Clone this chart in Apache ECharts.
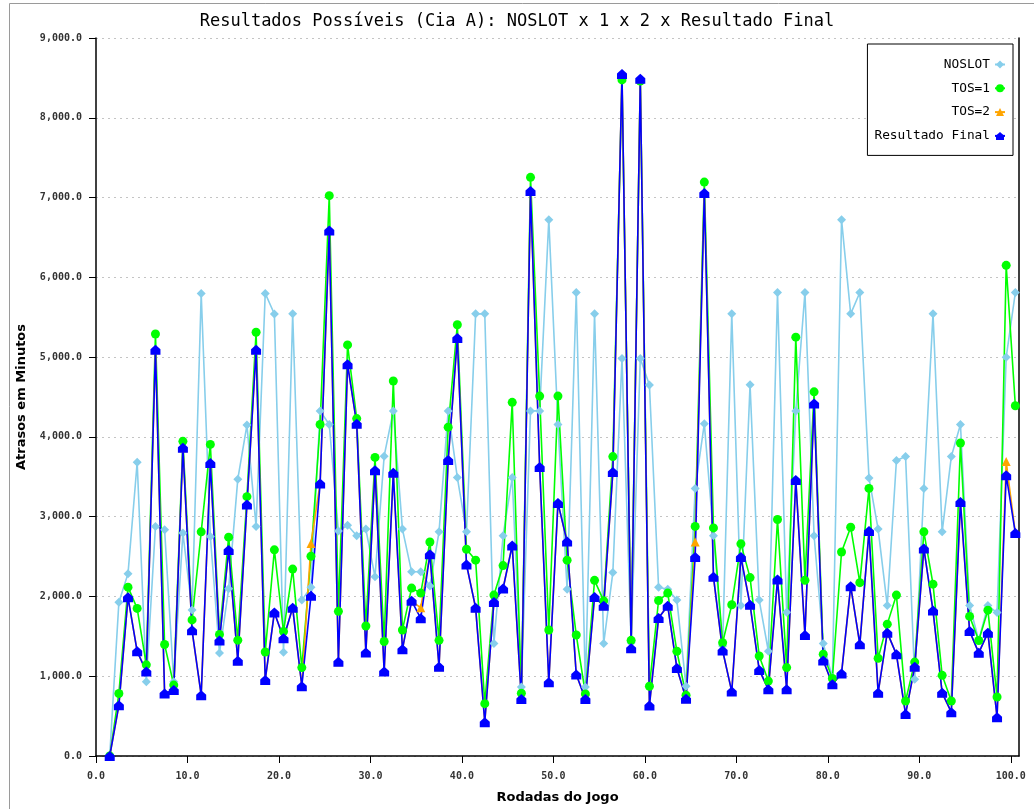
<!DOCTYPE html>
<html>
<head>
<meta charset="utf-8">
<title>Resultados Possíveis (Cia A)</title>
<script src="https://cdn.jsdelivr.net/npm/echarts@6/dist/echarts.min.js"></script>
<style>
  html, body { margin: 0; padding: 0; background: #fff; }
  #chart { width: 1034px; height: 809px; }
</style>
</head>
<body>
<div id="chart"></div>
<script>
// Game rounds (x) and delays in minutes for each scenario
const rounds = [
  1, 2, 3, 4, 5, 6, 7, 8, 9, 10,
  11, 12, 13, 14, 15, 16, 17, 18, 19, 20,
  21, 22, 23, 24, 25, 26, 27, 28, 29, 30,
  31, 32, 33, 34, 35, 36, 37, 38, 39, 40,
  41, 42, 43, 44, 45, 46, 47, 48, 49, 50,
  51, 52, 53, 54, 55, 56, 57, 58, 59, 60,
  61, 62, 63, 64, 65, 66, 67, 68, 69, 70,
  71, 72, 73, 74, 75, 76, 77, 78, 79, 80,
  81, 82, 83, 84, 85, 86, 87, 88, 89, 90,
  91, 92, 93, 94, 95, 96, 97, 98, 99, 100
];

const noslot = [
  0, 1926, 2286, 3682, 932, 2878, 2836, 932, 2794, 1829,
  5798, 2751, 1291, 2095, 3470, 4148, 2878, 5798, 5540, 1300,
  5542, 1954, 2115, 4326, 4156, 2819, 2892, 2761, 2844, 2246,
  3758, 4326, 2844, 2309, 2309, 2130, 2810, 4326, 3490, 2810,
  5542, 5542, 1410, 2761, 3490, 865, 4326, 4326, 6723, 4156,
  2090, 5810, 865, 5542, 1410, 2299, 4983, 1420, 4983, 4650,
  2115, 2090, 1954, 875, 3354, 4166, 2761, 1380, 5542, 1886,
  4652, 1954, 1313, 5810, 1803, 4326, 5810, 2761, 1410, 980,
  6723, 5542, 5810, 3486, 2844, 1886, 3704, 3753, 963, 3354,
  5542, 2810, 3753, 4156, 1886, 1450, 1886, 1798, 4997, 5810
];

const tos1 = [
  0, 783, 2116, 1850, 1143, 5290, 1397, 889, 3944, 1706,
  2810, 3906, 1524, 2743, 1452, 3251, 5311, 1304, 2584, 1560,
  2343, 1108, 2504, 4156, 7024, 1813, 5153, 4229, 1629, 3743,
  1435, 4701, 1580, 2105, 2042, 2683, 1450, 4122, 5406, 2591,
  2455, 656, 2017, 2387, 4433, 787, 7253, 4511, 1580, 4511,
  2455, 1517, 778, 2202, 1945, 3753, 8475, 1450, 8460, 875,
  1949, 2042, 1313, 763, 2878, 7194, 2859, 1420, 1896, 2659,
  2236, 1254, 939, 2965, 1108, 5250, 2202, 4565, 1276, 972,
  2557, 2868, 2173, 3354, 1225, 1653, 2017, 690, 1177, 2810,
  2154, 1011, 690, 3923, 1750, 1448, 1828, 739, 6150, 4390
];

const tos2 = [
  0, 635, 1989, 1312, 1059, 5091, 783, 826, 3864, 1575,
  762, 3674, 1448, 2582, 1194, 3153, 5091, 953, 1800, 1476,
  1857, 875, 2664, 3417, 6587, 1181, 4910, 4166, 1298, 3583,
  1060, 3549, 1337, 1945, 1857, 2528, 1118, 3709, 5240, 2400,
  1857, 423, 1930, 2100, 2639, 714, 7083, 3622, 924, 3170,
  2688, 1021, 714, 1993, 1882, 3559, 8550, 1352, 8490, 632,
  1731, 1882, 1104, 719, 2683, 7058, 2246, 1322, 807, 2494,
  1896, 1079, 836, 2212, 836, 3461, 1517, 4419, 1196, 899,
  1035, 2129, 1400, 2819, 792, 1546, 1274, 525, 1118, 2601,
  1823, 792, 549, 3184, 1566, 1293, 1546, 486, 3690, 2795
];

const resultadoFinal = [
  0, 635, 1989, 1312, 1059, 5091, 783, 826, 3864, 1575,
  762, 3674, 1448, 2582, 1194, 3153, 5091, 953, 1800, 1476,
  1857, 875, 2008, 3417, 6587, 1181, 4910, 4166, 1298, 3583,
  1060, 3549, 1337, 1945, 1726, 2528, 1118, 3709, 5240, 2400,
  1857, 423, 1930, 2100, 2639, 714, 7083, 3622, 924, 3170,
  2688, 1021, 714, 1993, 1882, 3559, 8550, 1352, 8490, 632,
  1731, 1882, 1104, 719, 2494, 7058, 2246, 1322, 807, 2494,
  1896, 1079, 836, 2212, 836, 3461, 1517, 4419, 1196, 899,
  1035, 2129, 1400, 2819, 792, 1546, 1274, 525, 1118, 2601,
  1823, 792, 549, 3184, 1566, 1293, 1546, 486, 3520, 2795
];

const xTickLabels = [0, 10, 20, 30, 40, 50, 60, 70, 80, 90, 100];

// each round sits in the middle of its unit slot on the x axis
const slotOffset = 0.5;
const toPoints = vals => rounds.map((r, i) => [r + slotOffset, vals[i]]);

const mono = '"DejaVu Sans Mono", "Liberation Mono", monospace';
const houseSymbol = 'path://M5,0 L10,4.5 L10,10 L0,10 L0,4.5 Z';

const chart = echarts.init(document.getElementById('chart'), null, { renderer: 'canvas' });

function lineSeries(name, vals, color, symbol, size) {
  return {
    name: name,
    type: 'line',
    data: toPoints(vals),
    symbol: symbol,
    symbolSize: size,
    showAllSymbol: true,
    color: color,
    itemStyle: { color: color },
    lineStyle: { color: color, width: 1.6 },
    emphasis: { disabled: true },
    animation: false
  };
}

chart.setOption({
  animation: false,
  backgroundColor: '#ffffff',
  graphic: [{
    type: 'rect',
    z: -10,
    silent: true,
    shape: { x: 9.5, y: 3.5, width: 1100, height: 900 },
    style: { fill: 'none', stroke: '#9a9a9a', lineWidth: 1 }
  }],
  title: {
    text: 'Resultados Possíveis (Cia A): NOSLOT x 1 x 2 x Resultado Final',
    left: 'center',
    top: 8,
    textStyle: { fontFamily: mono, fontSize: 17, fontWeight: 'normal', color: '#000' }
  },
  legend: {
    orient: 'vertical',
    right: 21,
    top: 44,
    align: 'right',
    backgroundColor: '#ffffff',
    borderColor: '#000',
    borderWidth: 1,
    padding: [14, 7, 13, 7],
    itemGap: 10.8,
    itemWidth: 10,
    itemHeight: 10,
    textStyle: { fontFamily: mono, fontSize: 12.8, color: '#000' },
    data: ['NOSLOT', 'TOS=1', 'TOS=2', 'Resultado Final']
  },
  grid: { left: 96, right: 15, top: 38, bottom: 51, containLabel: false },
  xAxis: {
    type: 'value',
    min: 0,
    max: 100.9,
    interval: 10,
    name: 'Rodadas do Jogo',
    nameLocation: 'middle',
    nameGap: 35,
    nameTextStyle: { fontFamily: '"DejaVu Sans", sans-serif', fontSize: 13, fontWeight: 'bold', color: '#000' },
    axisLine: { show: true, onZero: false, lineStyle: { color: '#000', width: 1.5 } },
    axisTick: { show: true, length: 7, customValues: xTickLabels, lineStyle: { color: '#000' } },
    axisLabel: {
      customValues: xTickLabels,
      fontFamily: mono, fontSize: 10, fontWeight: 'bold', color: '#333', margin: 15,
      formatter: v => v.toFixed(1)
    },
    splitLine: { show: false }
  },
  yAxis: [{
    type: 'value',
    min: 0,
    max: 9000,
    interval: 1000,
    name: 'Atrasos em Minutos',
    nameLocation: 'middle',
    nameGap: 68,
    nameRotate: 90,
    nameTextStyle: { fontFamily: '"DejaVu Sans", sans-serif', fontSize: 13, fontWeight: 'bold', color: '#000' },
    axisLine: { show: true, lineStyle: { color: '#000', width: 1.5 } },
    axisTick: { show: true, length: 7, lineStyle: { color: '#000' } },
    axisLabel: {
      fontFamily: mono, fontSize: 10, fontWeight: 'bold', color: '#333', margin: 14,
      formatter: v => v.toLocaleString('en-US', { minimumFractionDigits: 1, maximumFractionDigits: 1 })
    },
    splitLine: { show: true, lineStyle: { color: '#c4c4c4', type: [2, 4], width: 1 } }
  }, {
    type: 'value',
    position: 'right',
    min: 0,
    max: 9000,
    axisLine: { show: true, lineStyle: { color: '#000', width: 1.5 } },
    axisTick: { show: false },
    axisLabel: { show: false },
    splitLine: { show: false }
  }],
  series: [
    lineSeries('NOSLOT', noslot, '#87CEEB', 'diamond', 9),
    lineSeries('TOS=1', tos1, '#00FF00', 'circle', 9),
    lineSeries('TOS=2', tos2, '#FFA500', 'triangle', 9),
    lineSeries('Resultado Final', resultadoFinal, '#0000FF', houseSymbol, 10)
  ]
});
</script>
</body>
</html>
